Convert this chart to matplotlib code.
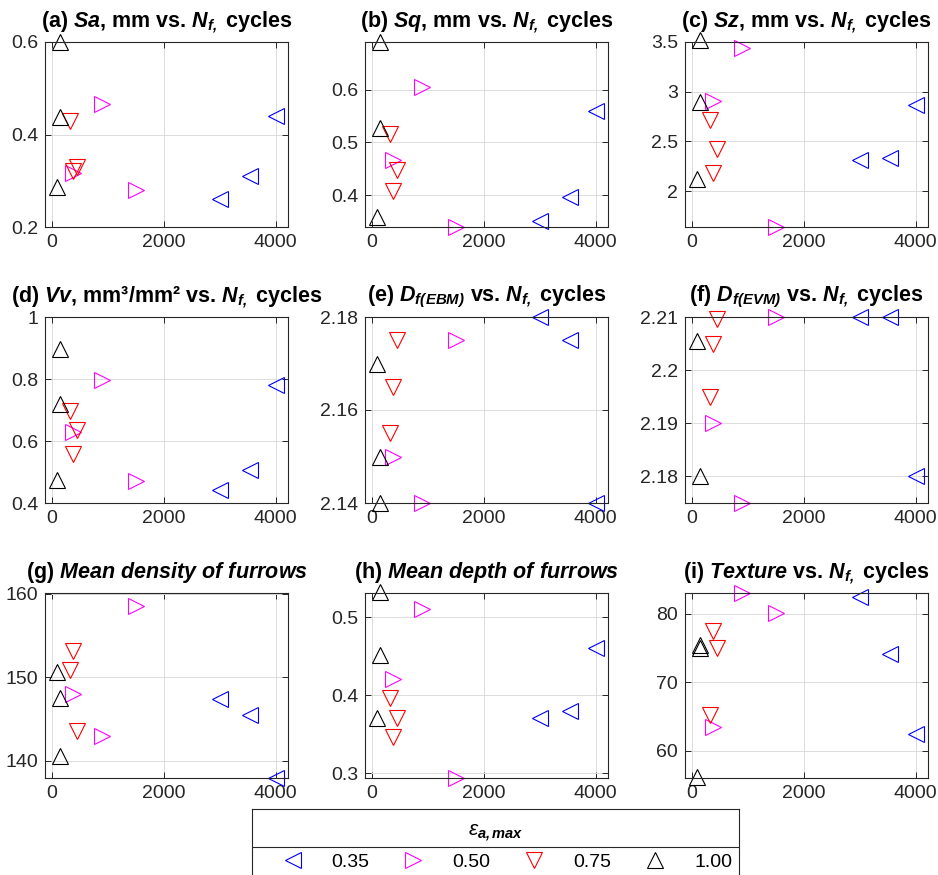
import numpy as np
import matplotlib
matplotlib.use("Agg")
import matplotlib.pyplot as plt
from matplotlib.lines import Line2D
from matplotlib.ticker import FuncFormatter

plt.rcParams['font.family'] = ['Liberation Sans', 'DejaVu Sans']
plt.rcParams['mathtext.fontset'] = 'custom'
plt.rcParams['mathtext.rm'] = 'Liberation Sans'
plt.rcParams['mathtext.it'] = 'Liberation Sans:italic'
plt.rcParams['mathtext.bf'] = 'Liberation Sans:bold'
plt.rcParams['mathtext.bfit'] = 'Liberation Sans:italic:bold'

# Nf (cycles) for each strain amplitude
nf_035 = [3000, 3540, 4000]
nf_050 = [380, 905, 1505]
nf_075 = [320, 380, 445]
nf_100 = [92, 140, 150]

# y values per panel, in the order of the nf arrays above
sa = {'0.35': [0.261, 0.310, 0.441], '0.50': [0.317, 0.465, 0.279],
      '0.75': [0.430, 0.322, 0.330], '1.00': [0.287, 0.438, 0.600]}
sq = {'0.35': [0.351, 0.396, 0.560], '0.50': [0.466, 0.604, 0.340],
      '0.75': [0.516, 0.409, 0.448], '1.00': [0.359, 0.528, 0.690]}
sz = {'0.35': [2.31, 2.33, 2.87], '0.50': [2.91, 3.44, 1.64],
      '0.75': [2.72, 2.18, 2.42], '1.00': [2.12, 2.90, 3.52]}
vv = {'0.35': [0.441, 0.508, 0.780], '0.50': [0.630, 0.797, 0.471],
      '0.75': [0.697, 0.559, 0.634], '1.00': [0.475, 0.719, 0.897]}
df_ebm = {'0.35': [2.180, 2.175, 2.140], '0.50': [2.150, 2.140, 2.175],
          '0.75': [2.155, 2.165, 2.175], '1.00': [2.170, 2.150, 2.140]}
df_evm = {'0.35': [2.210, 2.210, 2.180], '0.50': [2.190, 2.175, 2.210],
          '0.75': [2.195, 2.205, 2.2096], '1.00': [2.2054, np.nan, 2.180]}
density = {'0.35': [147.4, 145.5, 137.9], '0.50': [148.0, 143.0, 158.6],
           '0.75': [150.9, 153.2, 143.5], '1.00': [150.6, 147.5, 140.6]}
depth = {'0.35': [0.370, 0.380, 0.460], '0.50': [0.420, 0.510, 0.2936],
         '0.75': [0.396, 0.346, 0.370], '1.00': [0.371, 0.452, 0.532]}
texture = {'0.35': [82.4, 74.1, 62.4], '0.50': [63.4, 83.0, 80.1],
           '0.75': [65.2, 77.5, 75.0], '1.00': [56.1, 75.0, 75.4]}

nf = {'0.35': nf_035, '0.50': nf_050, '0.75': nf_075, '1.00': nf_100}
marks = {'0.35': ('<', '#0000ff'), '0.50': ('>', '#ff00ff'),
         '0.75': ('v', '#ff0000'), '1.00': ('^', '#000000')}
strains = ['0.35', '0.50', '0.75', '1.00']

nfc = r'$\mathbfit{N_{f,}}$ cycles'
panels = [
    (sa, r'(a) $\mathbfit{Sa}$, mm vs. ' + nfc, [0.2, 0.6], [0.2, 0.4, 0.6]),
    (sq, r'(b) $\mathbfit{Sq}$, mm vs. ' + nfc, [0.34, 0.69], [0.4, 0.5, 0.6]),
    (sz, r'(c) $\mathbfit{Sz}$, mm vs. ' + nfc, [1.64, 3.5], [2, 2.5, 3, 3.5]),
    (vv, r'(d) $\mathbfit{Vv}$, mm³/mm² vs. ' + nfc, [0.4, 1.0], [0.4, 0.6, 0.8, 1.0]),
    (df_ebm, r'(e) $\mathbfit{D_{f(EBM)}}$ vs. ' + nfc, [2.14, 2.18], [2.14, 2.16, 2.18]),
    (df_evm, r'(f) $\mathbfit{D_{f(EVM)}}$ vs. ' + nfc, [2.175, 2.21], [2.18, 2.19, 2.2, 2.21]),
    (density, r'(g) $\mathbfit{Mean\ density\ of\ furrows}$', [137.9, 160.1], [140, 150, 160]),
    (depth, r'(h) $\mathbfit{Mean\ depth\ of\ furrows}$', [0.2936, 0.531], [0.3, 0.4, 0.5]),
    (texture, r'(i) $\mathbfit{Texture}$ vs. ' + nfc, [56.0, 83.0], [60, 70, 80]),
]

W, H = 938, 875
fig = plt.figure(figsize=(W / 100, H / 100), dpi=100)

def pos(l, t, r, b):
    return [l / W, 1 - b / H, (r - l) / W, (b - t) / H]

cols = [(45, 288), (365, 608), (685, 928)]
rows = [(42, 227), (317, 503), (593, 778)]
dark = '#262626'

for k, (data, title, ylim, yticks) in enumerate(panels):
    l, r = cols[k % 3]
    t, b = rows[k // 3]
    ax = fig.add_axes(pos(l, t, r, b))
    for s in strains:
        mk, c = marks[s]
        ax.plot(nf[s], data[s], linestyle='none', marker=mk, color=c,
                markerfacecolor='none', markersize=11, markeredgewidth=0.8,
                clip_on=False, label=s)
    ax.set_xlim(-120, 4220)
    ax.set_ylim(ylim)
    ax.set_xticks([0, 2000, 4000])
    ax.set_yticks(yticks)
    ax.yaxis.set_major_formatter(FuncFormatter(lambda v, p: '%g' % v))
    ax.grid(True, color='#dcdcdc', linewidth=0.7)
    ax.set_axisbelow(True)
    ax.tick_params(direction='in', length=4, width=0.7, top=True, right=True,
                   labelsize=14, colors=dark, pad=5)
    for sp in ax.spines.values():
        sp.set_color(dark)
        sp.set_linewidth(0.8)
    ax.set_title(title, fontsize=15.5, fontweight='bold', pad=11)

# legend box
lax = fig.add_axes(pos(252, 809, 739, 885))
lax.set_xticks([])
lax.set_yticks([])
for sp in lax.spines.values():
    sp.set_color(dark)
    sp.set_linewidth(0.8)
lax.axhline(1 - (847 - 809) / (885 - 809), color=dark, linewidth=0.8)
lax.text(0.5, 1 - (833 - 809) / (885 - 809), r'$\epsilon_{\mathbfit{a,max}}$',
         ha='center', va='center', fontsize=15, transform=lax.transAxes)

handles = [Line2D([], [], linestyle='none', marker=marks[s][0], color=marks[s][1],
                  markerfacecolor='none', markersize=11, markeredgewidth=0.8)
           for s in strains]
fig.legend(handles, strains, ncol=4, frameon=False, mode='expand',
           loc='center', bbox_to_anchor=(275 / W, 1 - 872 / H, 465 / W, 20 / H),
           fontsize=14, handletextpad=1.5, handlelength=1.0, borderaxespad=0,
           labelcolor='black')

fig.savefig('out.png', dpi=100)
